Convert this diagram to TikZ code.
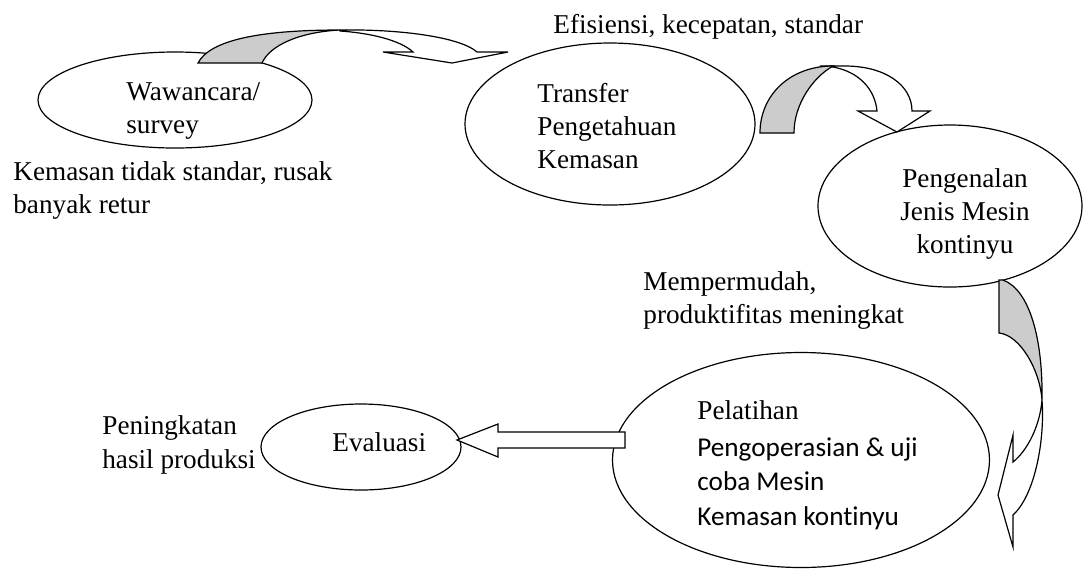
\documentclass[tikz,border=0pt]{standalone}
\usepackage{fontspec}
\setmainfont{Liberation Serif}
\newfontfamily\calibrifont[Ligatures=NoCommon]{Carlito}
\usetikzlibrary{shapes.geometric}
\definecolor{bandgrey}{gray}{0.8}
\begin{document}
\begin{tikzpicture}[x=0.5pt,y=-0.5pt,
  oval/.style={draw, ellipse, line width=0.6pt, inner sep=0pt},
  txt/.style={inner sep=0pt, anchor=base west, font=\fontsize{13.6}{16.5}\selectfont},
  ctxt/.style={inner sep=0pt, anchor=base, font=\fontsize{13.6}{16.5}\selectfont},
  stxt/.style={inner sep=0pt, anchor=base west, font=\fontsize{13.6}{16.5}\calibrifont},
  band/.style={draw, line width=0.6pt, line join=miter},
  backband/.style={band, fill=white},
  frontband/.style={band, fill=bandgrey}]
\useasboundingbox (0,0) rectangle (1084,570);

% ellipses
\node[oval, minimum width=137pt, minimum height=48pt] (wawancara) at (175,100) {};
\node[oval, minimum width=145pt, minimum height=81pt] (transfer) at (610,124) {};
\node[oval, minimum width=132pt, minimum height=81pt] (pengenalan) at (950,206) {};
\node[oval, minimum width=100pt, minimum height=43pt] (evaluasi) at (361,447) {};
\node[oval, minimum width=188.5pt, minimum height=107.5pt] (pelatihan) at (801,460) {};

% texts
\node[txt] (t1) at (553,33) {Efisiensi, kecepatan, standar};
\node[txt] (w1) at (126,100) {Wawancara/};
\node[txt] (w2) at (126,133) {survey};
\node[txt] (k1) at (13,180) {Kemasan tidak standar, rusak};
\node[txt] (k2) at (13,213) {banyak retur};
\node[txt] (tr1) at (537,102) {Transfer};
\node[txt] (tr2) at (537,135) {Pengetahuan};
\node[txt] (tr3) at (537,168) {Kemasan};
\node[ctxt] (p1) at (965,187) {Pengenalan};
\node[ctxt] (p2) at (965,220) {Jenis Mesin};
\node[ctxt] (p3) at (965,253) {kontinyu};
\node[txt] (m1) at (643,290) {Mempermudah,};
\node[txt] (m2) at (643,323) {produktifitas meningkat};
\node[txt] (h1) at (102,434) {Peningkatan};
\node[txt] (h2) at (102,468) {hasil produksi};
\node[txt] (ev) at (332,451) {Evaluasi};
\node[txt] (pl1) at (697,419) {Pelatihan};
\node[stxt] (pl2) at (697,456) {Pengoperasian \& uji};
\node[stxt] (pl3) at (697,490) {coba Mesin};
\node[stxt] (pl4) at (697,525) {Kemasan kontinyu};

% curved arrow 1: wawancara -> transfer
\filldraw[backband] (340,30) .. controls (400,29) and (460,37) .. (477,52) -- (508,52) -- (452,63) -- (383,52) -- (413,52) .. controls (400,40) and (370,33) .. (340,31) -- cycle;
\filldraw[frontband] (198,63) .. controls (210,40) and (260,30) .. (340,30) .. controls (300,32) and (270,45) .. (262,63) -- cycle;

% curved arrow 2: transfer -> pengenalan
\filldraw[backband] (820,66) -- (845,66) .. controls (885,66) and (912,85) .. (912,111) -- (930,111) -- (897,132) -- (858,111) -- (877,111) .. controls (875,90) and (860,72) .. (833,67) -- cycle;
\filldraw[frontband] (760,133) .. controls (760,95) and (790,66) .. (833,66) .. controls (812,78) and (794,105) .. (794,133) -- cycle;

% curved arrow 3: pengenalan -> pelatihan
\filldraw[backband] (1042,400) .. controls (1045,440) and (1035,495) .. (1013,515) -- (1013,547) -- (998,495) -- (1013,435) -- (1013,462) .. controls (1028,450) and (1040,425) .. (1042,400) -- cycle;
\filldraw[frontband] (999,280) -- (1003,280) .. controls (1030,290) and (1043,340) .. (1042,400) .. controls (1040,370) and (1020,335) .. (999,333) -- cycle;

% block arrow 4: pelatihan -> evaluasi
\filldraw[backband] (625,432) -- (498,432) -- (498,424) -- (457,440) -- (498,457) -- (498,448) -- (625,448) -- cycle;
\end{tikzpicture}
\end{document}
